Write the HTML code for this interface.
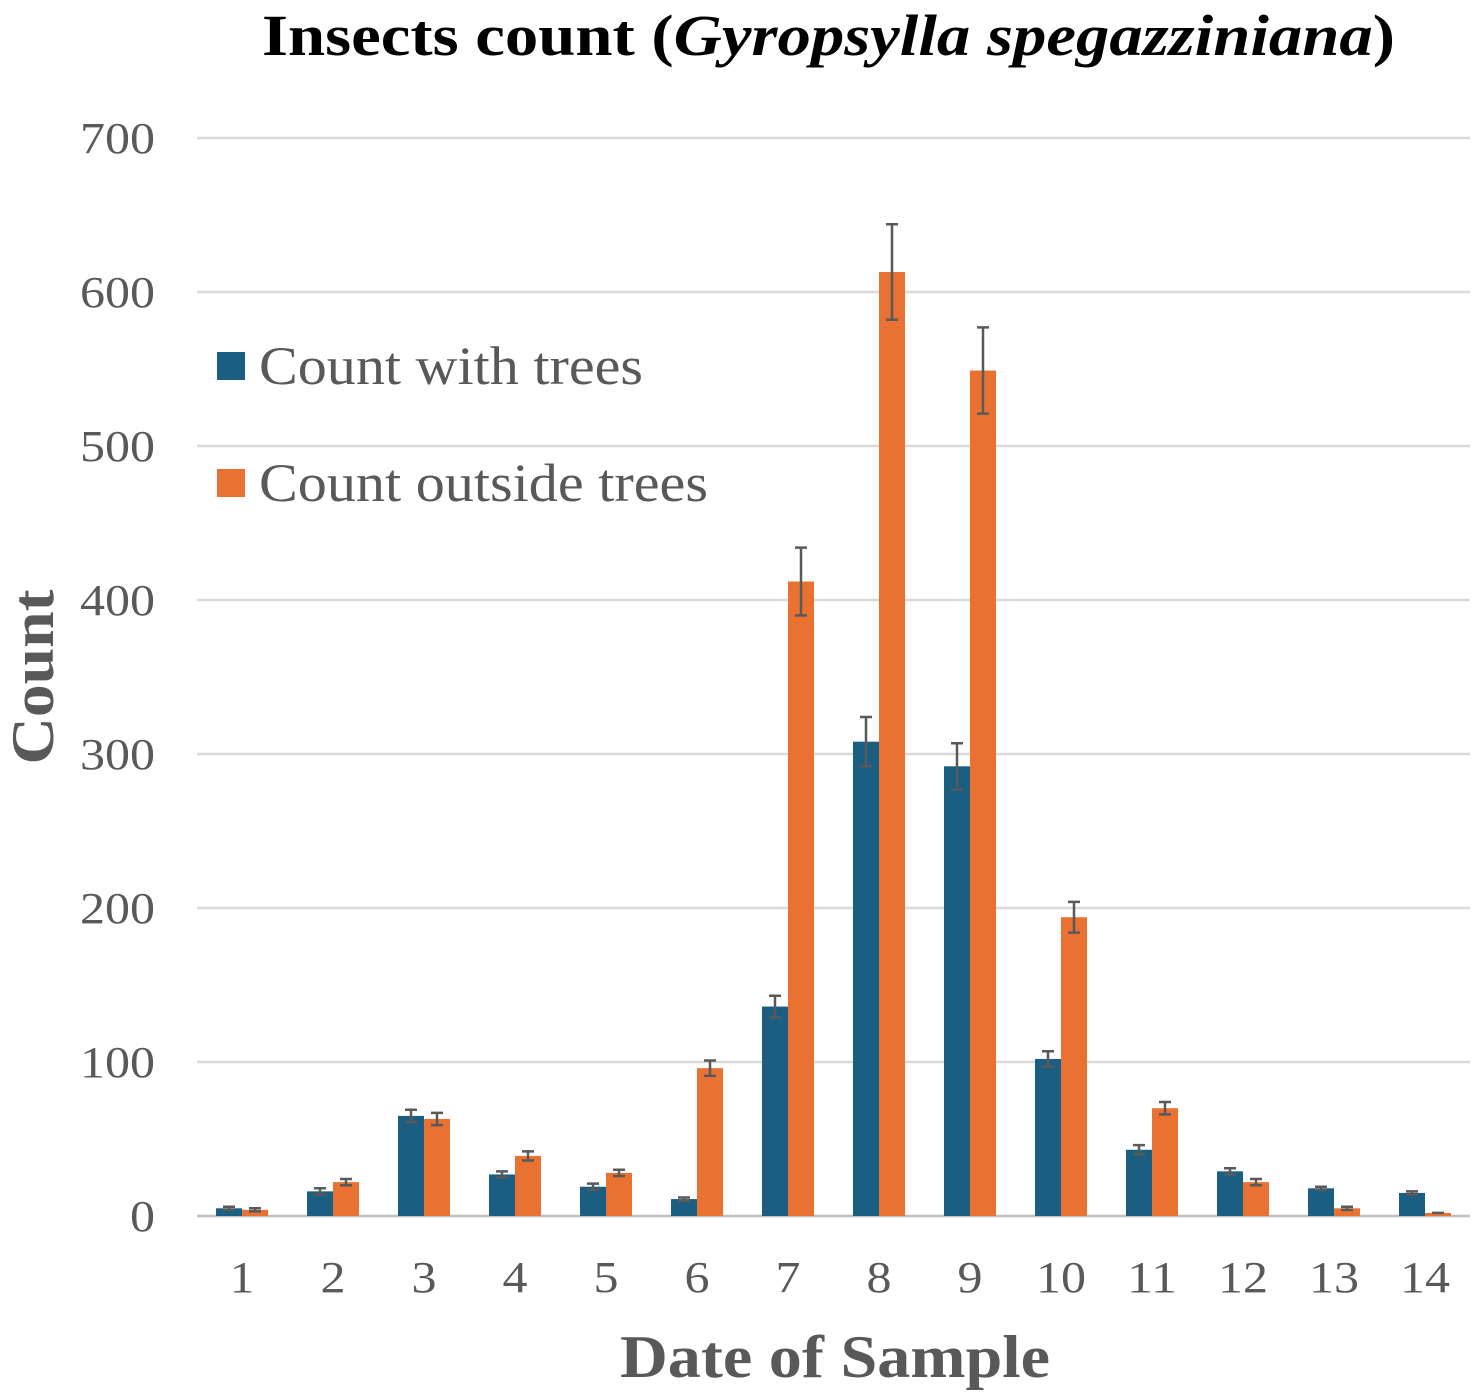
<!DOCTYPE html>
<html><head><meta charset="utf-8"><style>
body{margin:0;background:#fff}
svg{display:block;font-family:"Liberation Serif",serif}
</style></head><body>
<svg id="chart" width="1477" height="1397" viewBox="0 0 1477 1397" xmlns="http://www.w3.org/2000/svg">
<text x="262" y="55" font-size="58" font-weight="bold" fill="#000" textLength="1133" lengthAdjust="spacingAndGlyphs">Insects count (<tspan font-style="italic">Gyropsylla spegazziniana</tspan>)</text>
<g id="grid"></g>
<g id="yticks"></g>
<g id="bars"></g>
<g id="xticks"></g>
<text transform="translate(53,677) rotate(-90)" text-anchor="middle" font-size="60" font-weight="bold" fill="#595959" textLength="175" lengthAdjust="spacingAndGlyphs">Count</text>
<text x="835" y="1377" text-anchor="middle" font-size="60" font-weight="bold" fill="#595959" textLength="430" lengthAdjust="spacingAndGlyphs">Date of Sample</text>
<g>
<rect x="217" y="352" width="28" height="28" fill="#1a5f82"/>
<text x="259" y="384" font-size="54" fill="#595959" textLength="384" lengthAdjust="spacingAndGlyphs">Count with trees</text>
<rect x="217" y="469" width="28" height="28" fill="#e97132"/>
<text x="259" y="501" font-size="54" fill="#595959" textLength="449" lengthAdjust="spacingAndGlyphs">Count outside trees</text>
</g>
</svg>
<script>
const categories=["1","2","3","4","5","6","7","8","9","10","11","12","13","14"];
const withTrees=[5,16,65,27,19,11,136,308,292,102,43,29,18,15];
const outsideTrees=[4,22,63,39,28,96,412,613,549,194,70,22,5,2];
const withErr=[1,2,4,2,2,1,7,16,15,5,3,2,1,1];
const outsideErr=[1,2,4,3,2,5,22,31,28,10,4,2,1,0];
const yTicks=[0,100,200,300,400,500,600,700];
const NS="http://www.w3.org/2000/svg";
const y0=1216,pxPer=1.54,x0=242,step=91,bw=26;
const ys=v=>y0-v*pxPer, xs=i=>x0+i*step;
function mk(t,a,p){const e=document.createElementNS(NS,t);for(const k in a)e.setAttribute(k,a[k]);p.appendChild(e);return e;}
const grid=document.getElementById('grid'),yt=document.getElementById('yticks'),bars=document.getElementById('bars'),xt=document.getElementById('xticks');
yTicks.forEach(v=>{
 const l=mk('line',{x1:197,x2:1470,y1:ys(v),y2:ys(v),stroke:v===0?'#bfbfbf':'#d9d9d9','stroke-width':2.5},grid);
 
 
 const s=String(v);
 const t=mk('text',{x:155,y:ys(v)+15,'text-anchor':'end','font-size':44,fill:'#595959',textLength:25*s.length,lengthAdjust:'spacingAndGlyphs'},yt);t.textContent=s;
 
 
});
function bar(i,v,e,col,off,name){
 const x=xs(i)+off;
 const r=mk('rect',{x:x,y:ys(v),width:bw,height:v*pxPer,fill:col},bars);
 
 
 const cx=x+bw/2;
 const g=mk('path',{d:`M${cx},${ys(v+e)}V${ys(v-e)}M${cx-6},${ys(v+e)}H${cx+6}M${cx-6},${ys(v-e)}H${cx+6}`,stroke:'#595959','stroke-width':2.5,fill:'none'},bars);
 
 
}
categories.forEach((c,i)=>{
 bar(i,withTrees[i],withErr[i],'#1a5f82',-bw,'with-trees');
 bar(i,outsideTrees[i],outsideErr[i],'#e97132',0,'outside-trees');
 const t=mk('text',{x:xs(i),y:1292,'text-anchor':'middle','font-size':44,fill:'#595959',textLength:25*c.length,lengthAdjust:'spacingAndGlyphs'},xt);t.textContent=c;
 
 
});
</script>
</body></html>
